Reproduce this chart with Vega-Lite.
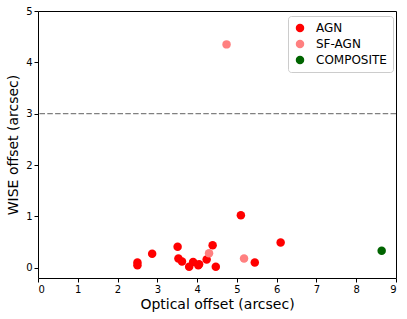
{
  "$schema": "https://vega.github.io/schema/vega-lite/v6.json",
  "autosize": {"type": "none"},
  "width": 358,
  "height": 267,
  "padding": {"left": 38, "top": 11, "right": 11, "bottom": 41},
  "background": "white",
  "config": {
    "font": "DejaVu Sans",
    "view": {"stroke": "black", "strokeWidth": 1},
    "axis": {
      "domain": false,
      "grid": false,
      "tickColor": "black",
      "tickSize": 4,
      "labelColor": "black",
      "labelFontSize": 10,
      "titleColor": "black",
      "titleFontSize": 14,
      "titleFontWeight": "normal",
      "labelFont": "DejaVu Sans",
      "titleFont": "DejaVu Sans"
    }
  },
  "datasets": {
    "pts": [
      {"optical": 2.50, "wise": 0.10, "type": "AGN"},
      {"optical": 2.50, "wise": 0.05, "type": "AGN"},
      {"optical": 2.87, "wise": 0.27, "type": "AGN"},
      {"optical": 3.51, "wise": 0.41, "type": "AGN"},
      {"optical": 3.53, "wise": 0.18, "type": "AGN"},
      {"optical": 3.62, "wise": 0.12, "type": "AGN"},
      {"optical": 3.80, "wise": 0.02, "type": "AGN"},
      {"optical": 3.90, "wise": 0.11, "type": "AGN"},
      {"optical": 4.03, "wise": 0.05, "type": "AGN"},
      {"optical": 4.05, "wise": 0.07, "type": "AGN"},
      {"optical": 4.24, "wise": 0.16, "type": "AGN"},
      {"optical": 4.39, "wise": 0.44, "type": "AGN"},
      {"optical": 4.47, "wise": 0.02, "type": "AGN"},
      {"optical": 5.10, "wise": 1.02, "type": "AGN"},
      {"optical": 5.45, "wise": 0.10, "type": "AGN"},
      {"optical": 6.10, "wise": 0.49, "type": "AGN"},
      {"optical": 4.74, "wise": 4.35, "type": "SF-AGN"},
      {"optical": 4.30, "wise": 0.28, "type": "SF-AGN"},
      {"optical": 5.18, "wise": 0.18, "type": "SF-AGN"},
      {"optical": 8.64, "wise": 0.33, "type": "COMPOSITE"}
    ],
    "ref": [{"y": 3}]
  },
  "layer": [
    {
      "data": {"name": "ref"},
      "mark": {"type": "rule", "color": "#808080", "strokeDash": [5.5, 2.3], "strokeWidth": 1.3},
      "encoding": {"y": {"field": "y", "type": "quantitative"}}
    },
    {
      "data": {"name": "pts"},
      "mark": {"type": "point", "filled": true, "size": 72, "opacity": 1},
      "encoding": {
        "x": {
          "field": "optical", "type": "quantitative",
          "scale": {"domain": [0, 9], "nice": false, "zero": false},
          "axis": {"values": [0,1,2,3,4,5,6,7,8,9], "title": "Optical offset (arcsec)", "titlePadding": 3}
        },
        "y": {
          "field": "wise", "type": "quantitative",
          "scale": {"domain": [-0.2, 5], "nice": false, "zero": false},
          "axis": {"values": [0,1,2,3,4,5], "title": "WISE offset (arcsec)", "titlePadding": 5}
        },
        "color": {
          "field": "type", "type": "nominal",
          "scale": {"domain": ["AGN", "SF-AGN", "COMPOSITE"], "range": ["#ff0000", "#ff8080", "#006400"]},
          "legend": {
            "title": null,
            "orient": "none",
            "legendX": 250,
            "legendY": 5,
            "strokeColor": "#cccccc",
            "fillColor": "white",
            "cornerRadius": 3,
            "padding": 6,
            "labelFontSize": 12,
            "labelColor": "black",
            "labelFont": "DejaVu Sans",
            "symbolSize": 72,
            "symbolType": "circle",
            "rowPadding": 4,
            "labelOffset": 10
          }
        }
      }
    }
  ]
}
